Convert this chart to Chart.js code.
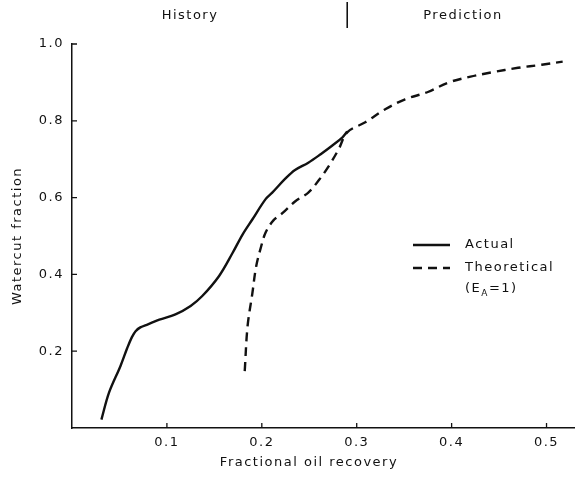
<!DOCTYPE html>
<html>
<head>
<meta charset="utf-8">
<script src="https://cdn.jsdelivr.net/npm/chart.js@4.4.1/dist/chart.umd.min.js"></script>
<style>
    html, body { margin: 0; padding: 0; background: #fff; }
    #wrap { width: 575px; height: 482px; }
</style>
</head>
<body>
<div id="wrap"><canvas id="watercutChart" width="575" height="482"></canvas></div>
<script>
// Fractional oil recovery vs watercut fraction
const actualRecovery = [0.031, 0.039, 0.051, 0.058, 0.063, 0.067, 0.072, 0.080, 0.092, 0.109, 0.125, 0.137, 0.155, 0.169, 0.180, 0.190, 0.204, 0.211, 0.225, 0.235, 0.249, 0.262, 0.274, 0.285, 0.290];
const actualWatercut = [0.022, 0.092, 0.161, 0.207, 0.236, 0.252, 0.262, 0.270, 0.282, 0.296, 0.318, 0.343, 0.396, 0.455, 0.505, 0.543, 0.596, 0.613, 0.650, 0.672, 0.691, 0.713, 0.735, 0.757, 0.772];

const theoryRecovery = [0.182, 0.185, 0.190, 0.194, 0.199, 0.204, 0.212, 0.222, 0.235, 0.249, 0.260, 0.270, 0.281, 0.290, 0.309, 0.330, 0.351, 0.375, 0.397, 0.420, 0.442, 0.470, 0.495, 0.517];
const theoryWatercut = [0.148, 0.265, 0.350, 0.420, 0.470, 0.509, 0.540, 0.560, 0.590, 0.613, 0.645, 0.680, 0.726, 0.770, 0.796, 0.830, 0.856, 0.875, 0.900, 0.915, 0.926, 0.938, 0.946, 0.954];

const xTicks = [0.1, 0.2, 0.3, 0.4, 0.5];
const yTicks = [0.2, 0.4, 0.6, 0.8, 1.0];
const historyEnd = 0.29;

const FONT = "'DejaVu Sans', sans-serif";
const INK = "#111";

function toPoints(xs, ys) {
    return xs.map((x, i) => ({ x: x, y: ys[i] }));
}

// Short tick marks pointing into the plot, plus the header, x title and legend
const decorations = {
    id: "decorations",
    beforeDraw(chart) {
        chart.ctx.letterSpacing = "1.5px";
    },
    afterDraw(chart) {
        const ctx = chart.ctx;
        const xs = chart.scales.x;
        const ys = chart.scales.y;
        ctx.save();
        ctx.strokeStyle = INK;
        ctx.lineWidth = 1.3;
        ctx.beginPath();
        xTicks.forEach((v) => {
            const px = xs.getPixelForValue(v);
            ctx.moveTo(px, ys.bottom);
            ctx.lineTo(px, ys.bottom - 5);
        });
        yTicks.forEach((v) => {
            const py = ys.getPixelForValue(v);
            ctx.moveTo(xs.left, py);
            ctx.lineTo(xs.left + 5, py);
        });
        ctx.stroke();

        // History / Prediction header
        const sep = xs.getPixelForValue(historyEnd);
        ctx.lineWidth = 1.6;
        ctx.beginPath();
        ctx.moveTo(sep, 2);
        ctx.lineTo(sep, 28);
        ctx.stroke();
        ctx.fillStyle = INK;
        ctx.font = "13px " + FONT;
        ctx.textAlign = "center";
        ctx.textBaseline = "middle";
        ctx.fillText("History", 190, 16);
        ctx.fillText("Prediction", 463, 16);

        // x axis title, a little left of the plot centre
        ctx.fillText("Fractional oil recovery", 309, 463);

        // Legend
        const ds = chart.data.datasets;
        ctx.textAlign = "left";
        const rows = [{ y: 245, set: ds[0] }, { y: 268, set: ds[1] }];
        rows.forEach((r) => {
            ctx.lineWidth = r.set.borderWidth;
            ctx.setLineDash(r.set.borderDash || []);
            ctx.beginPath();
            ctx.moveTo(413, r.y);
            ctx.lineTo(450, r.y);
            ctx.stroke();
            ctx.setLineDash([]);
            ctx.fillText(r.set.label, 465, r.y);
        });
        // (E_A=1) with subscript
        let tx = 465;
        ctx.fillText("(E", tx, 289);
        tx += ctx.measureText("(E").width;
        ctx.font = "9px " + FONT;
        ctx.fillText("A", tx, 294);
        tx += ctx.measureText("A").width;
        ctx.font = "13px " + FONT;
        ctx.fillText("=1)", tx, 289);
        ctx.restore();
    },
};

const watercutChart = new Chart(document.getElementById("watercutChart"), {
    type: "line",
    data: {
        datasets: [{
                label: "Actual",
                data: toPoints(actualRecovery, actualWatercut),
                borderColor: INK,
                borderWidth: 2.4,
                pointRadius: 0,
                tension: 0.35,
                fill: false,
            },
            {
                label: "Theoretical",
                data: toPoints(theoryRecovery, theoryWatercut),
                borderColor: INK,
                borderWidth: 2.4,
                borderDash: [9, 6],
                pointRadius: 0,
                tension: 0.35,
                fill: false,
            },
        ],
    },
    options: {
        responsive: false,
        animation: false,
        layout: {
            padding: { top: 44, right: 0, bottom: 0, left: 0 },
        },
        plugins: {
            legend: { display: false },
            tooltip: { enabled: false },
        },
        scales: {
            x: {
                type: "linear",
                min: 0,
                max: 0.53,
                afterFit(scale) {
                    scale.height = 54;
                },
                afterBuildTicks(scale) {
                    scale.ticks = xTicks.map((v) => ({ value: v }));
                },
                grid: { display: false, drawTicks: false },
                border: { display: true, color: INK, width: 1.5 },
                ticks: {
                    color: INK,
                    padding: 7,
                    font: { family: FONT, size: 13 },
                    callback: (v) => v.toFixed(1),
                },
            },
            y: {
                type: "linear",
                min: 0,
                max: 1.0,
                afterFit(scale) {
                    scale.width = 72;
                },
                afterBuildTicks(scale) {
                    scale.ticks = yTicks.map((v) => ({ value: v }));
                },
                grid: { display: false, drawTicks: false },
                border: { display: true, color: INK, width: 1.5 },
                ticks: {
                    color: INK,
                    padding: 8,
                    font: { family: FONT, size: 13 },
                    callback: (v) => v.toFixed(1),
                },
                title: {
                    display: true,
                    text: "Watercut fraction",
                    color: INK,
                    font: { family: FONT, size: 13 },
                    padding: { top: 10, bottom: 0 },
                },
            },
        },
    },
    plugins: [decorations],
});
</script>
</body>
</html>
